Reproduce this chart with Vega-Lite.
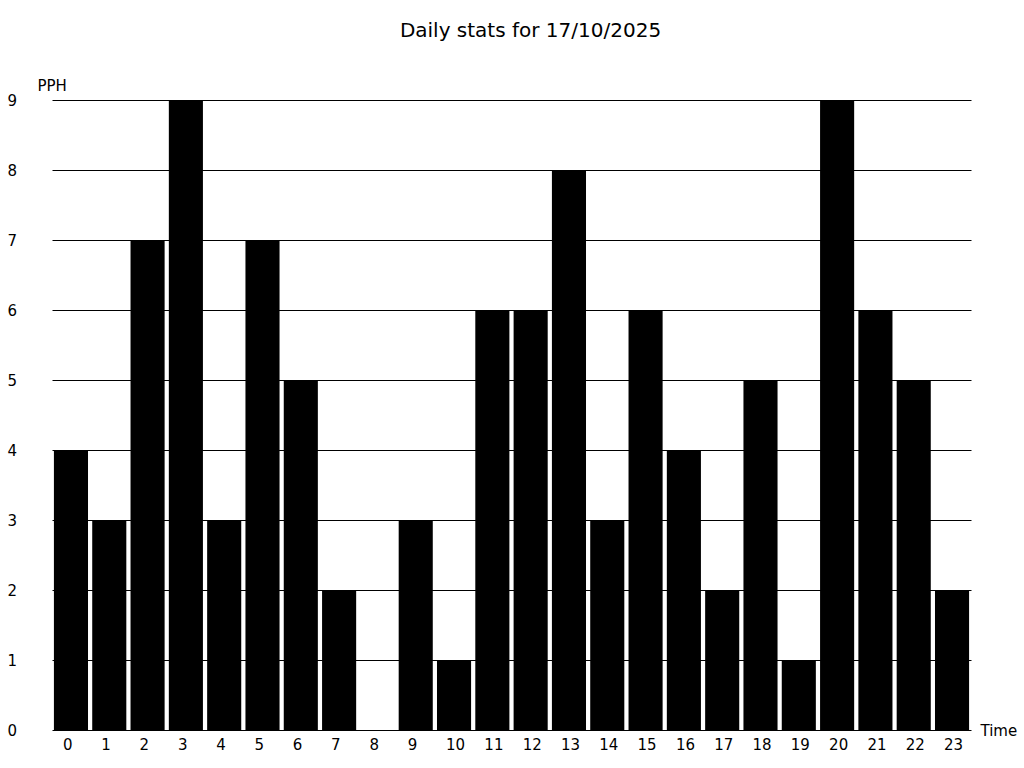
{
  "$schema": "https://vega.github.io/schema/vega-lite/v6.json",
  "width": 919,
  "height": 630,
  "autosize": "none",
  "padding": {"left": 52, "top": 100, "right": 53, "bottom": 38},
  "background": "white",
  "title": {"text": "Daily stats for 17/10/2025", "font": "DejaVu Sans", "fontSize": 20, "fontWeight": "normal", "color": "black", "anchor": "middle", "dx": 19, "offset": 37},
  "config": {"view": {"stroke": null}, "font": "DejaVu Sans"},
  "data": {"values": [
    {"hour": 0, "pph": 4}, {"hour": 1, "pph": 3}, {"hour": 2, "pph": 7}, {"hour": 3, "pph": 9},
    {"hour": 4, "pph": 3}, {"hour": 5, "pph": 7}, {"hour": 6, "pph": 5}, {"hour": 7, "pph": 2},
    {"hour": 8, "pph": 0}, {"hour": 9, "pph": 3}, {"hour": 10, "pph": 1}, {"hour": 11, "pph": 6},
    {"hour": 12, "pph": 6}, {"hour": 13, "pph": 8}, {"hour": 14, "pph": 3}, {"hour": 15, "pph": 6},
    {"hour": 16, "pph": 4}, {"hour": 17, "pph": 2}, {"hour": 18, "pph": 5}, {"hour": 19, "pph": 1},
    {"hour": 20, "pph": 9}, {"hour": 21, "pph": 6}, {"hour": 22, "pph": 5}, {"hour": 23, "pph": 2}
  ]},
  "mark": {"type": "bar", "color": "black"},
  "encoding": {
    "x": {
      "field": "hour", "type": "ordinal", "sort": null,
      "scale": {"paddingInner": 0.11, "paddingOuter": 0.05},
      "axis": {
        "title": "Time", "titleFont": "DejaVu Sans", "titleFontSize": 15, "titleFontWeight": "normal", "titleColor": "black",
        "titleX": 928, "titleY": 0, "titleAlign": "left", "titleBaseline": "middle", "titleAngle": 0,
        "labelAngle": 0, "labelFontSize": 15, "labelColor": "black", "labelFont": "DejaVu Sans",
        "labelPadding": 7, "labelBaseline": "top", "labelAlign": "left", "labelOffset": -8,
        "ticks": false, "tickSize": 0, "domain": false, "grid": false
      }
    },
    "y": {
      "field": "pph", "type": "quantitative",
      "scale": {"domain": [0, 9], "nice": false},
      "axis": {
        "title": "PPH", "titleFont": "DejaVu Sans", "titleFontSize": 15, "titleFontWeight": "normal", "titleColor": "black",
        "titleX": -15, "titleY": -10, "titleAlign": "left", "titleBaseline": "alphabetic", "titleAngle": 0,
        "values": [0, 1, 2, 3, 4, 5, 6, 7, 8, 9],
        "labelFontSize": 15, "labelColor": "black", "labelFont": "DejaVu Sans",
        "labelAlign": "left", "labelPadding": 45, "labelBaseline": "middle",
        "ticks": false, "tickSize": 0, "domain": false,
        "grid": true, "gridColor": "black", "gridOpacity": 1, "gridWidth": 1
      }
    }
  }
}
